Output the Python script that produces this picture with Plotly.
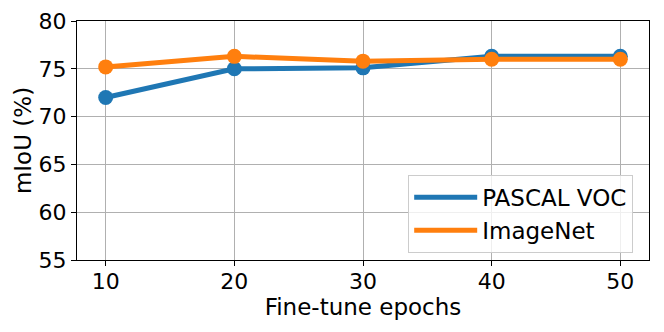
import plotly.graph_objects as go

epochs = [10, 20, 30, 40, 50]
pascal_voc = [72.0, 75.0, 75.1, 76.3, 76.3]
imagenet = [75.2, 76.3, 75.8, 76.0, 76.0]
series_names = ["PASCAL VOC", "ImageNet"]
series_colors = ["#1f77b4", "#ff7f0e"]
y_ticks = [55, 60, 65, 70, 75, 80]
x_ticks = [10, 20, 30, 40, 50]

FONT = "DejaVu Sans"
fig = go.Figure()
for name, vals, col in zip(series_names, [pascal_voc, imagenet], series_colors):
    fig.add_trace(go.Scatter(x=epochs, y=vals, mode="lines+markers", name=name, showlegend=False,
                             line=dict(color=col, width=5), marker=dict(size=15, color=col)))
for name, col in zip(series_names, series_colors):
    fig.add_trace(go.Scatter(x=[None], y=[None], mode="lines", name=name,
                             line=dict(color=col, width=5)))

axis_common = dict(showgrid=True, gridcolor="#b0b0b0", gridwidth=1, showline=True, linecolor="black",
                   linewidth=1, mirror=True, ticks="outside", ticklen=5, tickcolor="black",
                   tickfont=dict(family=FONT, size=22, color="black"), zeroline=False, automargin=False)
fig.update_xaxes(range=[7.77, 52.23], tickvals=x_ticks, ticklabelstandoff=-3,
                 title=dict(text="Fine-tune epochs", font=dict(family=FONT, size=23, color="black"), standoff=4),
                 **axis_common)
fig.update_yaxes(range=[55, 80], tickvals=y_ticks,
                 title=dict(text="mIoU (%)", font=dict(family=FONT, size=23, color="black"), standoff=0),
                 **axis_common)
# page body has an 8px default margin, so figure is sized/margined to compensate
fig.update_layout(width=656, height=324, margin=dict(l=69, r=15, t=13, b=72),
                  plot_bgcolor="white", paper_bgcolor="white",
                  font=dict(family=FONT, color="black"),
                  legend=dict(x=0.579, y=0.356, xanchor="left", yanchor="top",
                              bgcolor="rgba(255,255,255,0.8)", bordercolor="#cccccc", borderwidth=1,
                              font=dict(family=FONT, size=23, color="black"), itemwidth=63,
                              tracegroupgap=0))
fig.write_html("out.html")
